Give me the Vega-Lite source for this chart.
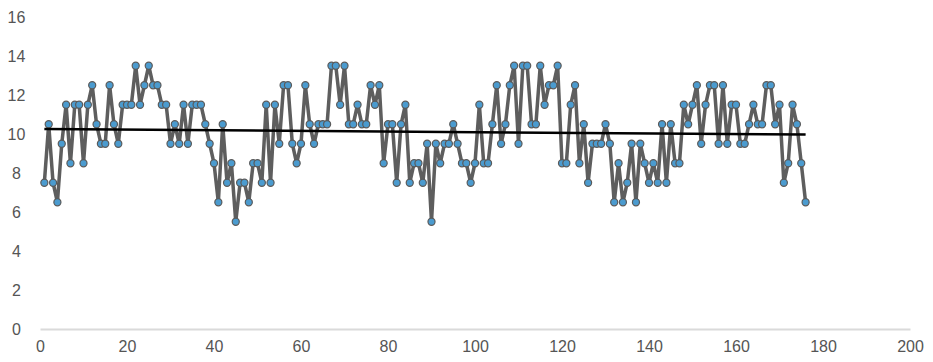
{
  "$schema": "https://vega.github.io/schema/vega-lite/v6.json",
  "width": 870,
  "height": 312,
  "autosize": {"type": "none"},
  "padding": {"left": 40, "top": 17, "right": 23, "bottom": 33},
  "background": "#ffffff",
  "config": {
    "view": {"stroke": null},
    "font": "Liberation Sans",
    "axis": {"labelFont": "Liberation Sans", "labelFontSize": 16, "labelColor": "#555555", "grid": false, "ticks": false, "title": null}
  },
  "data": {"values": [
    {"x":1,"y":7.5},{"x":2,"y":10.5},{"x":3,"y":7.5},{"x":4,"y":6.5},{"x":5,"y":9.5},{"x":6,"y":11.5},{"x":7,"y":8.5},{"x":8,"y":11.5},{"x":9,"y":11.5},{"x":10,"y":8.5},
    {"x":11,"y":11.5},{"x":12,"y":12.5},{"x":13,"y":10.5},{"x":14,"y":9.5},{"x":15,"y":9.5},{"x":16,"y":12.5},{"x":17,"y":10.5},{"x":18,"y":9.5},{"x":19,"y":11.5},{"x":20,"y":11.5},
    {"x":21,"y":11.5},{"x":22,"y":13.5},{"x":23,"y":11.5},{"x":24,"y":12.5},{"x":25,"y":13.5},{"x":26,"y":12.5},{"x":27,"y":12.5},{"x":28,"y":11.5},{"x":29,"y":11.5},{"x":30,"y":9.5},
    {"x":31,"y":10.5},{"x":32,"y":9.5},{"x":33,"y":11.5},{"x":34,"y":9.5},{"x":35,"y":11.5},{"x":36,"y":11.5},{"x":37,"y":11.5},{"x":38,"y":10.5},{"x":39,"y":9.5},{"x":40,"y":8.5},
    {"x":41,"y":6.5},{"x":42,"y":10.5},{"x":43,"y":7.5},{"x":44,"y":8.5},{"x":45,"y":5.5},{"x":46,"y":7.5},{"x":47,"y":7.5},{"x":48,"y":6.5},{"x":49,"y":8.5},{"x":50,"y":8.5},
    {"x":51,"y":7.5},{"x":52,"y":11.5},{"x":53,"y":7.5},{"x":54,"y":11.5},{"x":55,"y":9.5},{"x":56,"y":12.5},{"x":57,"y":12.5},{"x":58,"y":9.5},{"x":59,"y":8.5},{"x":60,"y":9.5},
    {"x":61,"y":12.5},{"x":62,"y":10.5},{"x":63,"y":9.5},{"x":64,"y":10.5},{"x":65,"y":10.5},{"x":66,"y":10.5},{"x":67,"y":13.5},{"x":68,"y":13.5},{"x":69,"y":11.5},{"x":70,"y":13.5},
    {"x":71,"y":10.5},{"x":72,"y":10.5},{"x":73,"y":11.5},{"x":74,"y":10.5},{"x":75,"y":10.5},{"x":76,"y":12.5},{"x":77,"y":11.5},{"x":78,"y":12.5},{"x":79,"y":8.5},{"x":80,"y":10.5},
    {"x":81,"y":10.5},{"x":82,"y":7.5},{"x":83,"y":10.5},{"x":84,"y":11.5},{"x":85,"y":7.5},{"x":86,"y":8.5},{"x":87,"y":8.5},{"x":88,"y":7.5},{"x":89,"y":9.5},{"x":90,"y":5.5},
    {"x":91,"y":9.5},{"x":92,"y":8.5},{"x":93,"y":9.5},{"x":94,"y":9.5},{"x":95,"y":10.5},{"x":96,"y":9.5},{"x":97,"y":8.5},{"x":98,"y":8.5},{"x":99,"y":7.5},{"x":100,"y":8.5},
    {"x":101,"y":11.5},{"x":102,"y":8.5},{"x":103,"y":8.5},{"x":104,"y":10.5},{"x":105,"y":12.5},{"x":106,"y":9.5},{"x":107,"y":10.5},{"x":108,"y":12.5},{"x":109,"y":13.5},{"x":110,"y":9.5},
    {"x":111,"y":13.5},{"x":112,"y":13.5},{"x":113,"y":10.5},{"x":114,"y":10.5},{"x":115,"y":13.5},{"x":116,"y":11.5},{"x":117,"y":12.5},{"x":118,"y":12.5},{"x":119,"y":13.5},{"x":120,"y":8.5},
    {"x":121,"y":8.5},{"x":122,"y":11.5},{"x":123,"y":12.5},{"x":124,"y":8.5},{"x":125,"y":10.5},{"x":126,"y":7.5},{"x":127,"y":9.5},{"x":128,"y":9.5},{"x":129,"y":9.5},{"x":130,"y":10.5},
    {"x":131,"y":9.5},{"x":132,"y":6.5},{"x":133,"y":8.5},{"x":134,"y":6.5},{"x":135,"y":7.5},{"x":136,"y":9.5},{"x":137,"y":6.5},{"x":138,"y":9.5},{"x":139,"y":8.5},{"x":140,"y":7.5},
    {"x":141,"y":8.5},{"x":142,"y":7.5},{"x":143,"y":10.5},{"x":144,"y":7.5},{"x":145,"y":10.5},{"x":146,"y":8.5},{"x":147,"y":8.5},{"x":148,"y":11.5},{"x":149,"y":10.5},{"x":150,"y":11.5},
    {"x":151,"y":12.5},{"x":152,"y":9.5},{"x":153,"y":11.5},{"x":154,"y":12.5},{"x":155,"y":12.5},{"x":156,"y":9.5},{"x":157,"y":12.5},{"x":158,"y":9.5},{"x":159,"y":11.5},{"x":160,"y":11.5},
    {"x":161,"y":9.5},{"x":162,"y":9.5},{"x":163,"y":10.5},{"x":164,"y":11.5},{"x":165,"y":10.5},{"x":166,"y":10.5},{"x":167,"y":12.5},{"x":168,"y":12.5},{"x":169,"y":10.5},{"x":170,"y":11.5},
    {"x":171,"y":7.5},{"x":172,"y":8.5},{"x":173,"y":11.5},{"x":174,"y":10.5},{"x":175,"y":8.5},{"x":176,"y":6.5}
  ]},
  "encoding": {
    "x": {"field": "x", "type": "quantitative", "scale": {"domain": [0, 200], "nice": false},
          "axis": {"values": [0,20,40,60,80,100,120,140,160,180,200], "domainColor": "#dadada", "domainWidth": 2, "labelPadding": 9, "labelFlush": false}},
    "y": {"field": "y", "type": "quantitative", "scale": {"domain": [0, 16], "nice": false},
          "axis": {"values": [0,2,4,6,8,10,12,14,16], "domain": false, "labelAlign": "center", "labelPadding": 24, "labelBaseline": "middle"}}
  },
  "layer": [
    {
      "data": {"values": [{}]},
      "mark": {"type": "rect", "color": {"gradient": "linear", "x1": 0, "y1": 0, "x2": 0, "y2": 1, "stops": [{"offset": 0, "color": "#ffffff"}, {"offset": 1, "color": "#eeeeee"}]}},
      "encoding": {
        "x": {"datum": 0, "type": "quantitative"},
        "x2": {"datum": 200},
        "y": {"datum": 16, "type": "quantitative"},
        "y2": {"datum": 0}
      }
    },
    {"mark": {"type": "line", "color": "#5e5e5e", "strokeWidth": 3.5}},
    {"mark": {"type": "point", "filled": true, "fill": "#4b9bcf", "stroke": "#5a5a5a", "strokeWidth": 1.2, "size": 50, "opacity": 1}},
    {
      "transform": [{"regression": "y", "on": "x"}],
      "mark": {"type": "line", "color": "#000000", "strokeWidth": 2.5}
    }
  ]
}
